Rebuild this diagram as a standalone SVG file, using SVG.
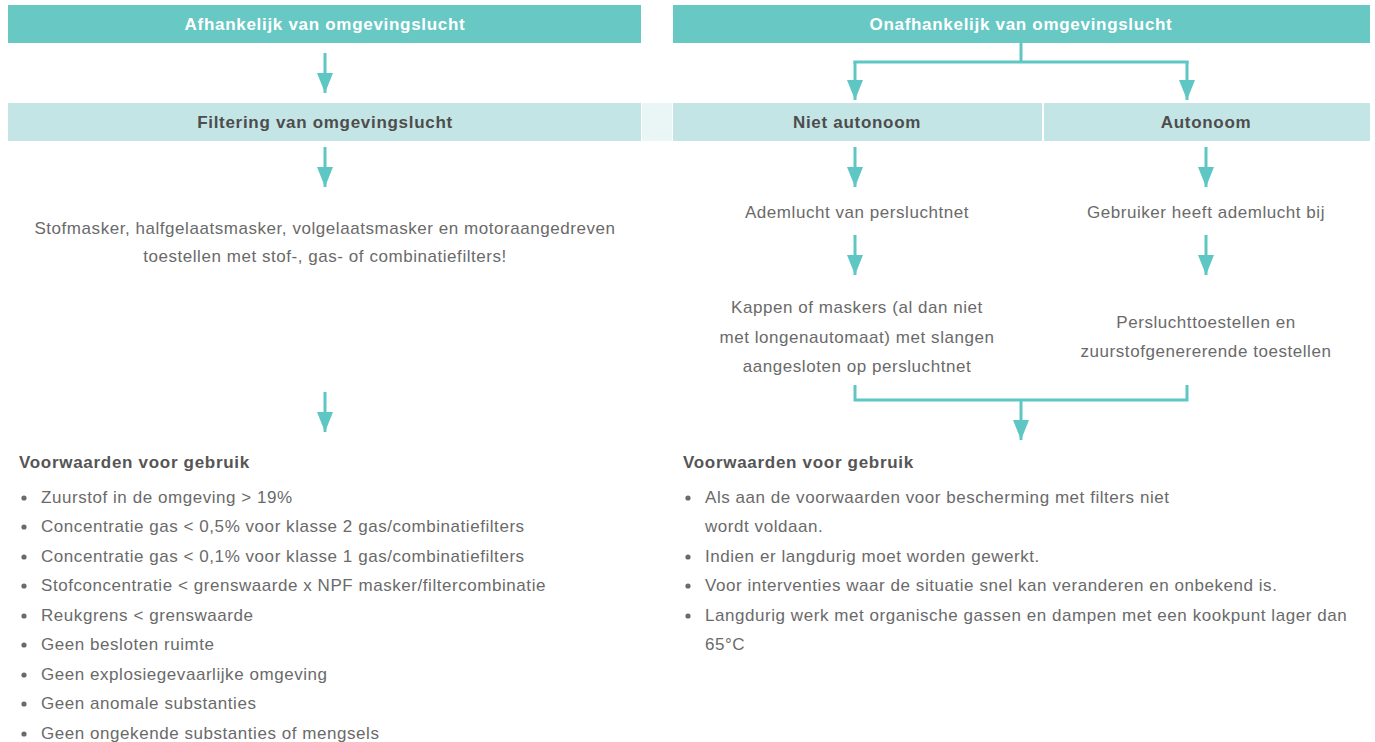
<svg xmlns="http://www.w3.org/2000/svg" width="1375" height="742" viewBox="0 0 1375 742">
<style>
.hdr{fill:#68c8c4}
.sub{fill:#c4e5e5}
.gap{fill:#eaf6f6}
.ht{font-family:"Liberation Sans",Arial,sans-serif;font-size:17px;font-weight:bold;letter-spacing:0.7px;fill:#ffffff;text-anchor:middle}
.st{font-family:"Liberation Sans",Arial,sans-serif;font-size:17px;font-weight:bold;letter-spacing:0.7px;fill:#4d4d4d;text-anchor:middle}
.t{font-family:"Liberation Sans",Arial,sans-serif;font-size:17px;letter-spacing:0.55px;fill:#6a6a6a}
.c{text-anchor:middle}
.h2{font-family:"Liberation Sans",Arial,sans-serif;font-size:17px;font-weight:bold;letter-spacing:0.7px;fill:#555555}
.ln{stroke:#5fc7c3;stroke-width:3;fill:none}
.bul{fill:#6a6a6a}
</style>
<defs>
<marker id="ah" markerWidth="20" markerHeight="16" refX="20" refY="8" orient="auto" markerUnits="userSpaceOnUse" viewBox="0 0 20 16">
<path d="M0,0 L20,8 L0,16 Z" fill="#5fc7c3"/>
</marker>
</defs>

<g id="node-afhankelijk">
<rect class="hdr" x="8" y="5" width="633" height="38"/>
<text class="ht" x="325" y="30">Afhankelijk van omgevingslucht</text>
</g>
<g id="node-onafhankelijk">
<rect class="hdr" x="673" y="5" width="697" height="38"/>
<text class="ht" x="1021" y="30">Onafhankelijk van omgevingslucht</text>
</g>

<rect class="gap" x="642" y="103" width="30" height="38"/>
<g id="node-filtering">
<rect class="sub" x="8" y="103" width="633" height="38"/>
<text class="st" x="325" y="128">Filtering van omgevingslucht</text>
</g>
<g id="node-niet-autonoom">
<rect class="sub" x="673" y="103" width="369" height="38"/>
<text class="st" x="857" y="128">Niet autonoom</text>
</g>
<g id="node-autonoom">
<rect class="sub" x="1044" y="103" width="326" height="38"/>
<text class="st" x="1206" y="128">Autonoom</text>
</g>

<g id="node-stofmasker">
<text class="t c" x="325" y="234">Stofmasker, halfgelaatsmasker, volgelaatsmasker en motoraangedreven</text>
<text class="t c" x="325" y="262">toestellen met stof-, gas- of combinatiefilters!</text>
</g>
<g id="node-ademlucht">
<text class="t c" x="857" y="218">Ademlucht van persluchtnet</text>
</g>
<g id="node-gebruiker">
<text class="t c" x="1206" y="218">Gebruiker heeft ademlucht bij</text>
</g>
<g id="node-kappen">
<text class="t c" x="857" y="313">Kappen of maskers (al dan niet</text>
<text class="t c" x="857" y="343">met longenautomaat) met slangen</text>
<text class="t c" x="857" y="372">aangesloten op persluchtnet</text>
</g>
<g id="node-persluchttoestellen">
<text class="t c" x="1206" y="328">Persluchttoestellen en</text>
<text class="t c" x="1206" y="357">zuurstofgenererende toestellen</text>
</g>

<g id="node-voorwaarden-links">
<text class="h2" x="19" y="468">Voorwaarden voor gebruik</text>
<g class="bul">
<circle cx="24" cy="498" r="2.6"/><circle cx="24" cy="527" r="2.6"/><circle cx="24" cy="557" r="2.6"/>
<circle cx="24" cy="586" r="2.6"/><circle cx="24" cy="616" r="2.6"/><circle cx="24" cy="645" r="2.6"/>
<circle cx="24" cy="675" r="2.6"/><circle cx="24" cy="704" r="2.6"/><circle cx="24" cy="734" r="2.6"/>
</g>
<text class="t" x="41" y="503">Zuurstof in de omgeving &gt; 19%</text>
<text class="t" x="41" y="532">Concentratie gas &lt; 0,5% voor klasse 2 gas/combinatiefilters</text>
<text class="t" x="41" y="562">Concentratie gas &lt; 0,1% voor klasse 1 gas/combinatiefilters</text>
<text class="t" x="41" y="591">Stofconcentratie &lt; grenswaarde x NPF masker/filtercombinatie</text>
<text class="t" x="41" y="621">Reukgrens &lt; grenswaarde</text>
<text class="t" x="41" y="650">Geen besloten ruimte</text>
<text class="t" x="41" y="680">Geen explosiegevaarlijke omgeving</text>
<text class="t" x="41" y="709">Geen anomale substanties</text>
<text class="t" x="41" y="739">Geen ongekende substanties of mengsels</text>
</g>

<g id="node-voorwaarden-rechts">
<text class="h2" x="683" y="468">Voorwaarden voor gebruik</text>
<g class="bul">
<circle cx="688" cy="498" r="2.6"/><circle cx="688" cy="557" r="2.6"/>
<circle cx="688" cy="586" r="2.6"/><circle cx="688" cy="616" r="2.6"/>
</g>
<text class="t" x="705" y="503">Als aan de voorwaarden voor bescherming met filters niet</text>
<text class="t" x="705" y="532">wordt voldaan.</text>
<text class="t" x="705" y="562">Indien er langdurig moet worden gewerkt.</text>
<text class="t" x="705" y="591">Voor interventies waar de situatie snel kan veranderen en onbekend is.</text>
<text class="t" x="705" y="621">Langdurig werk met organische gassen en dampen met een kookpunt lager dan</text>
<text class="t" x="705" y="650">65°C</text>
</g>

<g id="connectors">
<path class="ln" d="M325,53 V93" marker-end="url(#ah)"/>
<path class="ln" d="M325,147 V187" marker-end="url(#ah)"/>
<path class="ln" d="M325,392 V432" marker-end="url(#ah)"/>
<path class="ln" d="M1021,43 V62 M853.5,62 H1188.5"/>
<path class="ln" d="M855,61 V100" marker-end="url(#ah)"/>
<path class="ln" d="M1187,61 V100" marker-end="url(#ah)"/>
<path class="ln" d="M855,147 V187" marker-end="url(#ah)"/>
<path class="ln" d="M1206,147 V187" marker-end="url(#ah)"/>
<path class="ln" d="M855,235 V275" marker-end="url(#ah)"/>
<path class="ln" d="M1206,235 V275" marker-end="url(#ah)"/>
<path class="ln" d="M855,385 V400 H1187 V385"/>
<path class="ln" d="M1021,400 V440" marker-end="url(#ah)"/>
</g>
</svg>
